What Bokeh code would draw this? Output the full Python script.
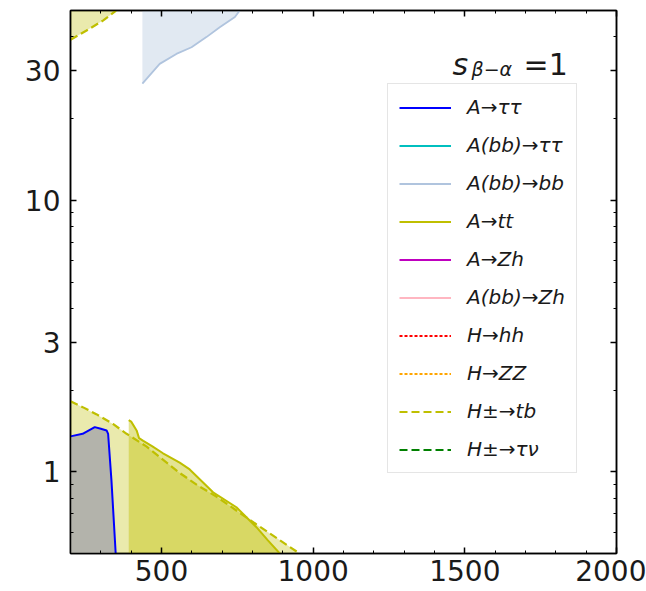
import numpy as np
from bokeh.plotting import figure
from bokeh.models import (Range1d, FixedTicker, LogAxis, LinearAxis, Legend, LegendItem,
                          Label, PrintfTickFormatter, CustomJSTickFormatter)
from bokeh.embed import file_html
from bokeh.resources import INLINE

# ---- axis ranges and ticks ----
MASS_MIN, MASS_MAX = 200, 2000
TANB_MIN, TANB_MAX = 0.5, 50
mass_ticks = [500, 1000, 1500, 2000]
mass_minor = [m for m in range(200, 2001, 100)]
tanb_ticks = [1, 3, 10, 30]
tanb_minor = [0.5, 0.6, 0.7, 0.8, 0.9, 2, 4, 5, 6, 7, 8, 9, 20, 40, 50]

# ---- exclusion contours (mass in GeV, tan beta) ----
# A -> tau tau
ata_mass = [200, 240, 280, 300, 319, 324, 335, 349]
ata_tanb = [1.35, 1.38, 1.46, 1.44, 1.42, 1.38, 0.93, 0.50]

# A(bb) -> bb, large tan beta
abb_mass = [437, 494, 549, 599, 648, 692, 742, 758]
abb_tanb = [26.9, 31.8, 34.6, 36.6, 39.9, 43.4, 47.3, 50.0]

# A -> tt
att_mass = [392, 400, 418, 426, 440, 470, 505, 560, 593, 670, 747, 813, 850, 890]
att_tanb = [1.55, 1.53, 1.42, 1.33, 1.30, 1.24, 1.17, 1.08, 1.02, 0.84, 0.74, 0.625, 0.56, 0.50]

# H+- -> tb, small and large tan beta branches
htb_lo_mass = [200, 240, 285, 340, 385, 450, 500, 560, 620, 681, 747, 813, 880, 955]
htb_lo_tanb = [1.82, 1.73, 1.63, 1.50, 1.38, 1.24, 1.12, 0.99, 0.89, 0.81, 0.72, 0.64, 0.57, 0.50]
htb_hi_mass = [200, 253, 307, 346, 350]
htb_hi_tanb = [39.0, 42.2, 45.9, 49.5, 50.0]

# legend entries: (label, colour, dash)
channels = [
    ("A→ττ", "#0000ff", "solid"),
    ("A(bb)→ττ", "#00bfbf", "solid"),
    ("A(bb)→bb", "#b0c4de", "solid"),
    ("A→tt", "#bfbf00", "solid"),
    ("A→Zh", "#bf00bf", "solid"),
    ("A(bb)→Zh", "#ffb6c1", "solid"),
    ("H→hh", "#ff0000", "3 2"),
    ("H→ZZ", "#ffa500", "3 2"),
    ("H±→tb", "#bfbf00", "8 4"),
    ("H±→τν", "#008000", "8 4"),
]
col = {lab: c for lab, c, _ in channels}

FONT = "DejaVu Sans"
TXT = "#1a1a1a"

p = figure(frame_width=546, frame_height=543, y_axis_type="log",
           x_range=Range1d(MASS_MIN, MASS_MAX), y_range=Range1d(TANB_MIN, TANB_MAX),
           output_backend="svg", toolbar_location=None,
           min_border_left=70, min_border_right=30, min_border_top=10, min_border_bottom=38)
p.grid.visible = False
p.background_fill_color = "white"
p.border_fill_color = "white"
p.outline_line_color = "black"
p.outline_line_width = 1.5

# ---- filled exclusion regions ----
p.varea(x=htb_lo_mass, y1=[TANB_MIN] * len(htb_lo_mass), y2=htb_lo_tanb,
        fill_color=col["H±→tb"], fill_alpha=0.32)
p.varea(x=htb_hi_mass, y1=htb_hi_tanb, y2=[TANB_MAX] * len(htb_hi_mass),
        fill_color=col["H±→tb"], fill_alpha=0.32)
p.varea(x=att_mass, y1=[TANB_MIN] * len(att_mass), y2=att_tanb,
        fill_color=col["A→tt"], fill_alpha=0.42)
p.varea(x=abb_mass, y1=abb_tanb, y2=[TANB_MAX] * len(abb_mass),
        fill_color=col["A(bb)→bb"], fill_alpha=0.38)
p.varea(x=ata_mass, y1=[TANB_MIN] * len(ata_mass), y2=ata_tanb,
        fill_color="#b3b3ab", fill_alpha=1.0)

# ---- contour lines ----
r_htb = p.line(htb_lo_mass, htb_lo_tanb, line_color=col["H±→tb"], line_width=2.2, line_dash="8 4")
p.line(htb_hi_mass, htb_hi_tanb, line_color=col["H±→tb"], line_width=2.2, line_dash="8 4")
r_att = p.line(att_mass, att_tanb, line_color=col["A→tt"], line_width=2)
r_abb = p.line(abb_mass, abb_tanb, line_color=col["A(bb)→bb"], line_width=1.8)
r_ata = p.line(ata_mass, ata_tanb, line_color=col["A→ττ"], line_width=2)

drawn = {"A→ττ": r_ata, "A(bb)→bb": r_abb, "A→tt": r_att, "H±→tb": r_htb}
items = []
for lab, c, dash in channels:
    if lab in drawn:
        r = drawn[lab]
    else:
        # channels without an excluded region in this window: a placeholder
        # renderer so the legend still shows their line style
        r = p.line([np.nan], [np.nan], line_color=c, line_width=2, line_dash=dash)
    items.append(LegendItem(label=lab, renderers=[r]))

legend = Legend(items=items, location=(317, 80), orientation="vertical",
                glyph_width=52, glyph_height=23, label_height=23, spacing=14,
                padding=11, margin=0, label_standoff=16,
                label_text_font=FONT, label_text_font_style="italic",
                label_text_font_size="20px", label_text_color=TXT,
                border_line_color="#cccccc", border_line_width=1,
                background_fill_color="white", background_fill_alpha=0.85)
p.add_layout(legend, "center")

# ---- axes ----
def style_axis(ax, labels=True):
    ax.major_tick_in = 6
    ax.major_tick_out = 0
    ax.minor_tick_in = 3
    ax.minor_tick_out = 0
    ax.axis_line_width = 1.5
    ax.axis_line_color = "black"
    ax.major_tick_line_width = 1.5
    ax.major_tick_line_color = "black"
    ax.minor_tick_line_width = 1
    ax.minor_tick_line_color = "black"
    ax.major_label_text_font = FONT
    ax.major_label_text_font_size = "28px"
    ax.major_label_text_color = TXT
    if not labels:
        ax.formatter = CustomJSTickFormatter(code="return ''")
        ax.major_label_standoff = 0

p.xaxis.ticker = FixedTicker(ticks=mass_ticks, minor_ticks=mass_minor)
p.yaxis.ticker = FixedTicker(ticks=tanb_ticks, minor_ticks=tanb_minor)
p.xaxis.formatter = PrintfTickFormatter(format="%d")
p.yaxis.formatter = PrintfTickFormatter(format="%d")
style_axis(p.xaxis[0])
style_axis(p.yaxis[0])
p.xaxis.major_label_standoff = 6
p.yaxis.major_label_standoff = 10

top_ax = LinearAxis(ticker=FixedTicker(ticks=mass_ticks, minor_ticks=mass_minor))
right_ax = LogAxis(ticker=FixedTicker(ticks=tanb_ticks, minor_ticks=tanb_minor))
style_axis(top_ax, labels=False)
style_axis(right_ax, labels=False)
p.add_layout(top_ax, "above")
p.add_layout(right_ax, "right")

# ---- annotation: s_{beta-alpha} = 1 ----
p.add_layout(Label(x=382, y=489, x_units="screen", y_units="screen", text="s",
                   text_baseline="alphabetic",
                   text_font=FONT, text_font_style="italic", text_font_size="30px",
                   text_color=TXT))
p.add_layout(Label(x=401, y=485, x_units="screen", y_units="screen", text="β−α",
                   text_baseline="alphabetic",
                   text_font=FONT, text_font_style="italic", text_font_size="19px",
                   text_color=TXT))
p.add_layout(Label(x=453, y=489, x_units="screen", y_units="screen", text="=1",
                   text_baseline="alphabetic",
                   text_font=FONT, text_font_size="30px", text_color=TXT))

open("out.html", "w").write(file_html(p, INLINE))
